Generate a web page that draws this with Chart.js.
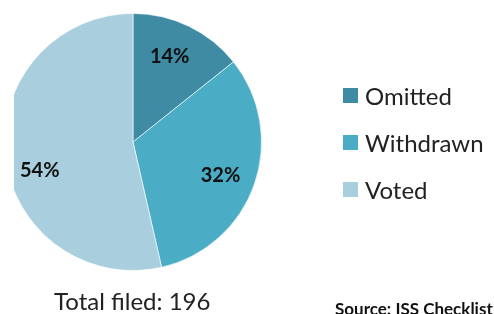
<!DOCTYPE html>
<html lang="en">
<head>
    <meta charset="UTF-8">
    <title>Shareholder proposals</title>
    <style>
        body {
            margin: 0;
            padding: 0;
            background-color: #fff;
            font-family: Lato, "Open Sans", sans-serif;
        }
        #wrap {
            position: relative;
            width: 494px;
            height: 314px;
            overflow: hidden;
        }
        #pie-chart {
            position: absolute;
            left: 0;
            top: 0;
            clip-path: inset(0 0 0 14px);
        }
        #legend {
            position: absolute;
            left: 343px;
            top: 72px;
        }
        .item {
            height: 47px;
            display: flex;
            align-items: center;
            font-size: 24px;
            color: #222;
            line-height: 30px;
        }
        .swatch {
            width: 15px;
            height: 15px;
            margin-right: 7px;
        }
        #total {
            position: absolute;
            left: 54px;
            top: 289px;
            font-size: 24px;
            line-height: 24px;
            color: #222;
            white-space: nowrap;
        }
        #source {
            position: absolute;
            left: 335px;
            top: 300px;
            font-size: 17px;
            line-height: 17px;
            font-weight: bold;
            color: #111;
            white-space: nowrap;
        }
    </style>
    <script src="https://cdn.jsdelivr.net/npm/chart.js"></script>
</head>
<body>
    <div id="wrap">
        <canvas id="pie-chart" width="494" height="314"></canvas>
        <div id="legend"></div>
        <div id="total"></div>
        <div id="source">Source: ISS Checklist</div>
    </div>
    <script>
        const categories = ['Omitted', 'Withdrawn', 'Voted'];
        const counts = [28, 63, 105];
        const percentLabels = ['14%', '32%', '54%'];
        const colors = ['#3e8ba3', '#4bacc6', '#a9cfde'];
        const totalFiled = 196;

        // draw percent labels inside slices
        const sliceLabels = {
            id: 'sliceLabels',
            afterDatasetsDraw(chart) {
                const ctx = chart.ctx;
                const arcs = chart.getDatasetMeta(0).data;
                const shift = [[-4, -1], [-1, 3], [0, 18]];
                ctx.save();
                ctx.font = 'bold 20px Lato, sans-serif';
                ctx.fillStyle = '#111';
                ctx.textAlign = 'center';
                ctx.textBaseline = 'middle';
                arcs.forEach((arc, i) => {
                    const mid = (arc.startAngle + arc.endAngle) / 2;
                    const r = arc.outerRadius * 0.73;
                    const x = arc.x + Math.cos(mid) * r + shift[i][0];
                    const y = arc.y + Math.sin(mid) * r + shift[i][1];
                    ctx.fillText(percentLabels[i], x, y);
                });
                ctx.restore();
            }
        };

        new Chart(document.getElementById('pie-chart'), {
            type: 'pie',
            data: {
                labels: categories,
                datasets: [{
                    data: counts,
                    backgroundColor: colors,
                    borderColor: 'rgba(255,255,255,0.6)',
                    borderWidth: 1
                }]
            },
            options: {
                responsive: false,
                animation: false,
                layout: { padding: { left: 4, top: 13, right: 232, bottom: 43 } },
                plugins: {
                    legend: { display: false },
                    tooltip: { enabled: false }
                }
            },
            plugins: [sliceLabels]
        });

        // legend and footer
        const legend = document.getElementById('legend');
        categories.forEach((name, i) => {
            const item = document.createElement('div');
            item.className = 'item';
            item.innerHTML = '<span class="swatch" style="background:' + colors[i] + '"></span>' + name;
            legend.appendChild(item);
        });
        document.getElementById('total').textContent = 'Total filed: ' + totalFiled;
    </script>
</body>
</html>
